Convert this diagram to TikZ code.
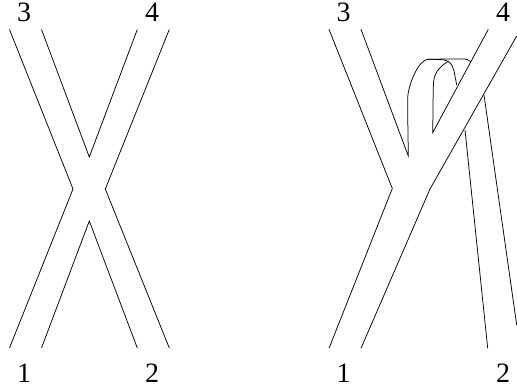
\documentclass[tikz,border=0pt]{standalone}
\usepackage{fontspec}
\setmainfont{Liberation Serif}
\begin{document}
\begin{tikzpicture}[
  x=1pt, y=-1pt,
  strand/.style={draw=black, line width=0.75pt, line join=miter},
  lbl/.style={font=\fontsize{28}{28}\selectfont, inner sep=0pt, anchor=center}
]
\useasboundingbox (0,0) rectangle (517,387);
% left crossing
\draw[strand] (9.5,29.5) -- (73,189) -- (9.5,348);
\draw[strand] (41.5,29.5) -- (89.3,157) -- (137.3,29.5);
\draw[strand] (169.3,29.5) -- (105.3,189) -- (169.3,348);
\draw[strand] (41.5,348) -- (89.3,221) -- (137.3,348);
\node[lbl] (tlA) at (24,12)  {3};
\node[lbl] (trA) at (152,12) {4};
\node[lbl] (blA) at (24,373) {1};
\node[lbl] (brA) at (152,373) {2};
% right crossing
\draw[strand] (329,29.3) -- (392.3,188.5) -- (329,348.3);
\draw[strand] (361,29.3) -- (408.3,156)
  .. controls (408,130) and (407.5,110) .. (407.7,97)
  .. controls (409,82) and (419,60) .. (428,59.2)
  -- (462,59) .. controls (466,59) and (469,59.5) .. (470.7,61.7);
\draw[strand] (488.3,29.3) -- (432.7,132.7)
  .. controls (433,115) and (433,95) .. (433.5,82)
  .. controls (434.5,70) and (443,65) .. (448.5,61);
\draw[strand] (428,59.2) -- (440,59.5)
  .. controls (450,60) and (452,64) .. (454,71) -- (456.7,85);
\draw[strand] (516.7,36) -- (430,189) -- (361,348.3);
\draw[strand] (465,130) -- (487.7,348.3);
\draw[strand] (484,95) -- (516.7,325);
\node[lbl] (tlB) at (343.5,12) {3};
\node[lbl] (trB) at (503,12)   {4};
\node[lbl] (blB) at (343.5,373) {1};
\node[lbl] (brB) at (503,373)  {2};
\end{tikzpicture}
\end{document}
